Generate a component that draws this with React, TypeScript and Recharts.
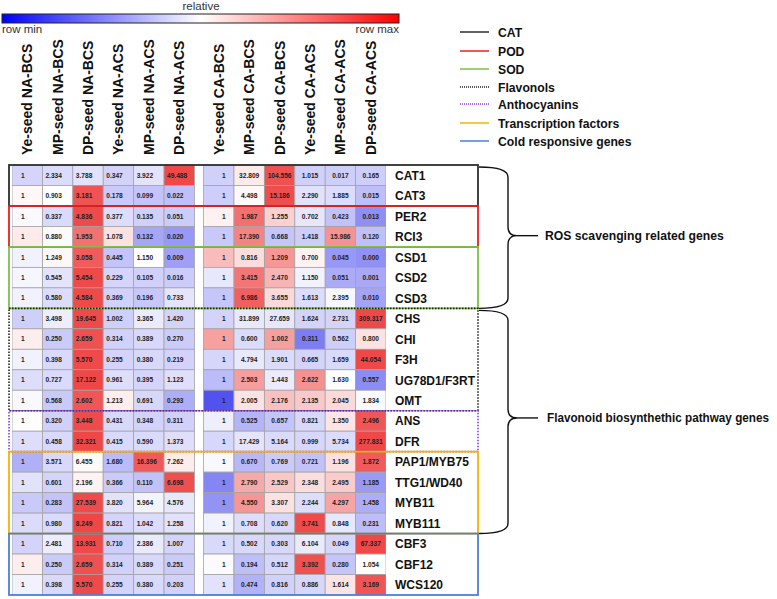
import { ScatterChart, Scatter, XAxis, YAxis } from "recharts";

// ---- data ----
const columns = [
  "Ye-seed NA-BCS", "MP-seed NA-BCS", "DP-seed NA-BCS",
  "Ye-seed NA-ACS", "MP-seed NA-ACS", "DP-seed NA-ACS",
  "Ye-seed CA-BCS", "MP-seed CA-BCS", "DP-seed CA-BCS",
  "Ye-seed CA-ACS", "MP-seed CA-ACS", "DP-seed CA-ACS",
];

const genes = [
  "CAT1", "CAT3", "PER2", "RCI3", "CSD1", "CSD2", "CSD3",
  "CHS", "CHI", "F3H", "UG78D1/F3RT", "OMT", "ANS", "DFR",
  "PAP1/MYB75", "TTG1/WD40", "MYB11", "MYB111", "CBF3", "CBF12", "WCS120",
];

// normal ambient block (NA), one row per gene
const naValues = [
  [1, 2.334, 3.788, 0.347, 3.922, 49.488],
  [1, 0.903, 3.181, 0.178, 0.099, 0.022],
  [1, 0.337, 4.836, 0.377, 0.135, 0.051],
  [1, 0.88, 1.953, 1.078, 0.132, 0.02],
  [1, 1.249, 3.058, 0.445, 1.15, 0.009],
  [1, 0.545, 5.454, 0.229, 0.105, 0.016],
  [1, 0.58, 4.584, 0.369, 0.196, 0.733],
  [1, 3.498, 19.645, 1.002, 3.365, 1.42],
  [1, 0.25, 2.659, 0.314, 0.389, 0.27],
  [1, 0.398, 5.57, 0.255, 0.38, 0.219],
  [1, 0.727, 17.122, 0.961, 0.395, 1.123],
  [1, 0.568, 2.602, 1.213, 0.691, 0.293],
  [1, 0.32, 3.448, 0.431, 0.348, 0.311],
  [1, 0.458, 32.321, 0.415, 0.59, 1.373],
  [1, 3.571, 6.455, 1.68, 16.396, 7.262],
  [1, 0.601, 2.196, 0.366, 0.11, 6.698],
  [1, 0.283, 27.539, 3.82, 5.964, 4.576],
  [1, 0.98, 8.249, 0.821, 1.042, 1.258],
  [1, 2.481, 13.931, 0.71, 2.386, 1.007],
  [1, 0.25, 2.659, 0.314, 0.389, 0.251],
  [1, 0.398, 5.57, 0.255, 0.38, 0.203],
];

// cold acclimated block (CA)
const caValues = [
  [1, 32.809, 104.556, 1.015, 0.017, 0.165],
  [1, 4.498, 15.186, 2.29, 1.885, 0.015],
  [1, 1.987, 1.255, 0.702, 0.423, 0.013],
  [1, 17.39, 0.668, 1.418, 15.986, 0.12],
  [1, 0.816, 1.209, 0.7, 0.045, 0.0],
  [1, 3.415, 2.47, 1.15, 0.051, 0.001],
  [1, 6.986, 3.655, 1.613, 2.395, 0.01],
  [1, 31.899, 27.659, 1.624, 2.731, 309.317],
  [1, 0.6, 1.002, 0.311, 0.562, 0.8],
  [1, 4.794, 1.901, 0.665, 1.659, 44.054],
  [1, 2.503, 1.443, 2.622, 1.63, 0.557],
  [1, 2.005, 2.176, 2.135, 2.045, 1.834],
  [1, 0.525, 0.657, 0.821, 1.35, 2.496],
  [1, 17.429, 5.164, 0.999, 5.734, 277.831],
  [1, 0.67, 0.769, 0.721, 1.196, 1.872],
  [1, 2.79, 2.529, 2.348, 2.495, 1.185],
  [1, 4.55, 3.307, 2.244, 4.297, 1.458],
  [1, 0.708, 0.62, 3.741, 0.848, 0.231],
  [1, 0.502, 0.303, 6.104, 0.049, 67.337],
  [1, 0.194, 0.512, 3.392, 0.28, 1.054],
  [1, 0.474, 0.816, 0.886, 1.614, 3.169],
];

const groupNames = ["CAT", "POD", "SOD", "Flavonols", "Anthocyanins", "Transcription factors", "Cold responsive genes"];
const groupSizes = [2, 2, 3, 5, 2, 4, 3];

const categoryNames = ["ROS scavenging related genes", "Flavonoid biosynthethic pathway genes"];
const categoryGroups = [[0, 2], [3, 5]];

// ---- styles / layout ----
const FONT = "'Liberation Sans', Arial, sans-serif";
const groupStyle = [
  { color: "#2e2e2e", dash: undefined },
  { color: "#e8201e", dash: undefined },
  { color: "#7cc046", dash: undefined },
  { color: "#222222", dash: "1.5 1.5" },
  { color: "#8a3ce6", dash: "1.5 1.5" },
  { color: "#f5b400", dash: undefined },
  { color: "#4d7fd6", dash: undefined },
];

const W = 777;
const H = 599;
const PLOT = { left: 12, right: 386, top: 165, bottom: 595 };
const AXIS_PAD = 10;
const X_DOMAIN: [number, number] = [-0.5, 11.8];
const BLOCK_GAP = 0.3;
const colW = (PLOT.right - PLOT.left) / (X_DOMAIN[1] - X_DOMAIN[0]);
const rowH = (PLOT.bottom - PLOT.top) / genes.length;
const colX = (i: number) => i + (i >= 6 ? BLOCK_GAP : 0);
const rowEdge = (r: number) => PLOT.top + r * rowH;
const BOX_LEFT = 9;
const BOX_RIGHT = 478;

// z-score within each block, then blue-white-red
function zScores(row: number[]) {
  const m = row.reduce((a, b) => a + b, 0) / row.length;
  const sd = Math.sqrt(row.reduce((a, b) => a + (b - m) * (b - m), 0) / (row.length - 1));
  return row.map((v) => (sd > 0 ? (v - m) / sd : 0));
}

function heatColor(z: number) {
  const t = Math.max(-1, Math.min(1, z / 2.5));
  const end = t >= 0 ? [235, 30, 30] : [35, 35, 235];
  const a = Math.abs(t);
  const c = end.map((e) => Math.round(255 + (e - 255) * a));
  return `rgb(${c[0]},${c[1]},${c[2]})`;
}

const cells = genes.flatMap((g, r) => {
  const zn = zScores(naValues[r]);
  const zc = zScores(caValues[r]);
  const all = [...naValues[r], ...caValues[r]];
  const zs = [...zn, ...zc];
  return all.map((v, c) => ({
    x: colX(c),
    y: r,
    col: c,
    label: v === 1 && c % 6 === 0 ? "1" : v.toFixed(3),
    fill: heatColor(zs[c]),
  }));
});

const HeatCell = (props: any) => {
  const { cx, cy, payload } = props;
  const x0 = cx - colW / 2;
  const y0 = cy - rowH / 2;
  const first = payload.col % 6 === 0;
  const left = payload.col < 6;
  let tx = cx;
  let anchor: "start" | "middle" = "middle";
  if (left) {
    anchor = "start";
    tx = x0 + (first ? 9 : 3);
  } else if (first) {
    tx = cx + 5;
  }
  return (
    <g>
      <rect x={x0} y={y0} width={colW} height={rowH} fill={payload.fill} stroke="#a3a3a3" strokeWidth={0.8} />
      <text x={tx} y={cy + 2.4} textAnchor={anchor} fontSize={6.6} fontWeight="bold" fill="#222" fontFamily={FONT}>
        {payload.label}
      </text>
    </g>
  );
};

const ColumnTick = (props: any) => {
  const { x, payload } = props;
  const i = columns.findIndex((_, k) => Math.abs(colX(k) - payload.value) < 0.01);
  const y = PLOT.top - 10;
  return (
    <text
      x={x}
      y={y}
      transform={`rotate(-90, ${x}, ${y})`}
      textAnchor="start"
      dominantBaseline="central"
      fontSize={14}
      fontWeight="bold"
      fill="#111"
      fontFamily={FONT}
    >
      {columns[i]}
    </text>
  );
};

const GeneTick = (props: any) => {
  const { y, payload } = props;
  return (
    <text x={PLOT.right + 9} y={y + 4.5} textAnchor="start" fontSize={12} fontWeight="bold" fill="#111" fontFamily={FONT}>
      {genes[payload.value]}
    </text>
  );
};

function Overlay() {
  const starts = groupSizes.map((_, i) => groupSizes.slice(0, i).reduce((a, b) => a + b, 0));
  const legendY = [32, 51, 69, 87, 104, 123, 141];
  return (
    <svg width={W} height={H} style={{ position: "absolute", left: 0, top: 0, pointerEvents: "none" }}>
      <defs>
        <linearGradient id="relgrad" x1="0" x2="1" y1="0" y2="0">
          <stop offset="0" stopColor="#0000ff" />
          <stop offset="0.5" stopColor="#ffffff" />
          <stop offset="1" stopColor="#ff0000" />
        </linearGradient>
      </defs>
      {/* colour bar */}
      <text x={201} y={10} textAnchor="middle" fontSize={11.5} fill="#333" fontFamily={FONT}>relative</text>
      <rect x={2} y={14} width={397} height={9} fill="url(#relgrad)" stroke="#222" strokeWidth={1} />
      <text x={2} y={33} fontSize={11.5} fill="#333" fontFamily={FONT}>row min</text>
      <text x={399} y={33} textAnchor="end" fontSize={11.5} fill="#333" fontFamily={FONT}>row max</text>

      {/* legend */}
      {groupNames.map((n, i) => (
        <g key={n}>
          <line x1={460} x2={489} y1={legendY[i]} y2={legendY[i]} stroke={groupStyle[i].color}
            strokeWidth={1.5} strokeDasharray={groupStyle[i].dash ? "1 1" : undefined} />
          <text x={498} y={legendY[i] + 4.5} fontSize={12.2} fontWeight="bold" fill="#111" fontFamily={FONT}>{n}</text>
        </g>
      ))}

      {/* group boxes */}
      {groupSizes.map((s, i) => (
        <rect key={i} x={BOX_LEFT} y={rowEdge(starts[i])} width={BOX_RIGHT - BOX_LEFT} height={s * rowH}
          fill="none" stroke={groupStyle[i].color} strokeWidth={groupStyle[i].dash ? 1.6 : 1.8}
          strokeDasharray={groupStyle[i].dash} />
      ))}

      {/* braces */}
      {categoryNames.map((n, k) => {
        const [g0, g1] = categoryGroups[k];
        const top = rowEdge(starts[g0]) + 2;
        const bot = rowEdge(starts[g1] + groupSizes[g1]);
        const mid = (top + bot) / 2 - 2 - k * 2;
        const bx = 508;
        const d = `M ${BOX_RIGHT + 1} ${top} Q ${bx} ${top} ${bx} ${top + 10} L ${bx} ${mid - 9} Q ${bx} ${mid} ${bx + 9} ${mid}` +
          ` Q ${bx} ${mid} ${bx} ${mid + 9} L ${bx} ${bot - 10} Q ${bx} ${bot} ${BOX_RIGHT + 1} ${bot}`;
        return (
          <g key={n}>
            <path d={d} fill="none" stroke="#111" strokeWidth={1.4} />
            <line x1={bx + 9} x2={538} y1={mid} y2={mid} stroke="#111" strokeWidth={1.4} />
            <text x={545 + k * 2} y={mid + 4.5} fontSize={12.2} fontWeight="bold" fill="#111" fontFamily={FONT}
              textLength={k === 1 ? 222 : undefined} lengthAdjust="spacingAndGlyphs">{n}</text>
          </g>
        );
      })}
    </svg>
  );
}

export default function App() {
  return (
    <div style={{ position: "absolute", left: 0, top: 0, width: W, height: H, background: "#fff" }}>
      <ScatterChart width={W} height={H}
        margin={{ top: PLOT.top - AXIS_PAD, right: W - PLOT.right - AXIS_PAD, bottom: H - PLOT.bottom, left: PLOT.left }}>
        <XAxis type="number" dataKey="x" orientation="top" domain={X_DOMAIN} height={AXIS_PAD}
          ticks={columns.map((_, i) => colX(i))} interval={0} axisLine={false} tickLine={false}
          tick={<ColumnTick />} allowDataOverflow />
        <YAxis type="number" dataKey="y" orientation="right" domain={[-0.5, genes.length - 0.5]} reversed width={AXIS_PAD}
          ticks={genes.map((_, i) => i)} interval={0} axisLine={false} tickLine={false}
          tick={<GeneTick />} allowDataOverflow />
        <Scatter data={cells} shape={<HeatCell />} isAnimationActive={false} />
      </ScatterChart>
      <Overlay />
    </div>
  );
}
